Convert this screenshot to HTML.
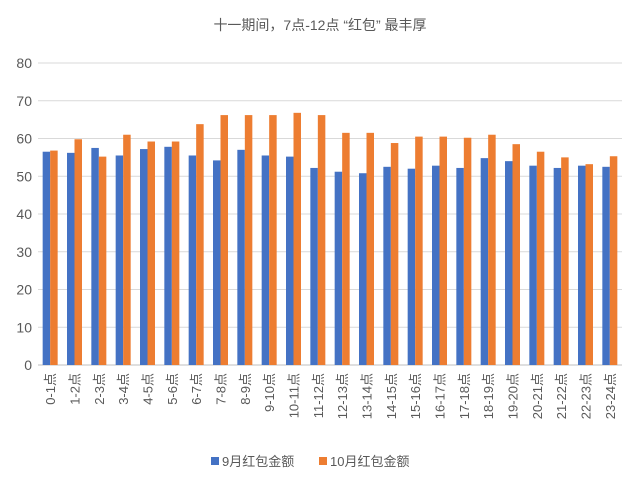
<!DOCTYPE html>
<html><head><meta charset="utf-8"><style>
body{margin:0;background:#fff;}
svg{display:block;font-family:"Liberation Sans","Noto Sans CJK SC",sans-serif;}
</style></head><body>
<svg id="c" width="640" height="486">
<text x="320" y="30" text-anchor="middle" font-size="14" fill="#595959">十一期间，7点-12点 “红包” 最丰厚</text>
<g id="grid"></g><g id="bars"></g><g id="xl"></g><g id="yl"></g>
<g>
<rect x="211" y="457" width="8" height="8" fill="#4472C4"/>
<text x="222" y="466" font-size="13" fill="#595959">9月红包金额</text>
<rect x="319" y="457" width="8" height="8" fill="#ED7D31"/>
<text x="330" y="466" font-size="13" fill="#595959">10月红包金额</text>
</g>
</svg>
<script>
const categories=["0-1点","1-2点","2-3点","3-4点","4-5点","5-6点","6-7点","7-8点","8-9点","9-10点","10-11点","11-12点","12-13点","13-14点","14-15点","15-16点","16-17点","17-18点","18-19点","19-20点","20-21点","21-22点","22-23点","23-24点"];
const sepValues=[56.5,56.2,57.5,55.5,57.2,57.8,55.5,54.2,57,55.5,55.2,52.2,51.2,50.8,52.5,52,52.8,52.2,54.8,54,52.8,52.2,52.8,52.5];
const octValues=[56.8,59.8,55.2,61,59.2,59.2,63.8,66.2,66.2,66.2,66.8,66.2,61.5,61.5,58.8,60.5,60.5,60.2,61,58.5,56.5,55,53.2,55.3];
const yTicks=[0,10,20,30,40,50,60,70,80];
const NS="http://www.w3.org/2000/svg";
const L=38,R=622,T=63,B=365;
const y=v=>B-(v/80)*(B-T);
const cw=(R-L)/categories.length;
const x=i=>L+i*cw;
function mk(tag,attrs,parent){const e=document.createElementNS(NS,tag);for(const k in attrs)e.setAttribute(k,attrs[k]);document.getElementById(parent).appendChild(e);return e;}
yTicks.forEach(t=>{
  const g=mk('line',{x1:L,x2:R,y1:y(t),y2:y(t),stroke:t===0?'#bfbfbf':'#d9d9d9','stroke-width':1},'grid');
  
  
  const tx=mk('text',{x:L-6,y:y(t)+5,'text-anchor':'end','font-size':14,fill:'#595959'},'yl');
  tx.textContent=t;
  
  
});
const bw=7.5;
categories.forEach((c,i)=>{
  const cx=x(i)+cw/2;
  const b1=mk('rect',{x:cx-bw,y:y(sepValues[i]),width:bw,height:B-y(sepValues[i]),fill:'#4472C4'},'bars');
  
  
  const b2=mk('rect',{x:cx,y:y(octValues[i]),width:bw,height:B-y(octValues[i]),fill:'#ED7D31'},'bars');
  
  
  const t=mk('text',{x:0,y:0,'text-anchor':'end','font-size':13,fill:'#595959',transform:`translate(${cx+5},${B+8}) rotate(-90)`},'xl');
  t.textContent=c;
  
  
});
</script>
</body></html>
